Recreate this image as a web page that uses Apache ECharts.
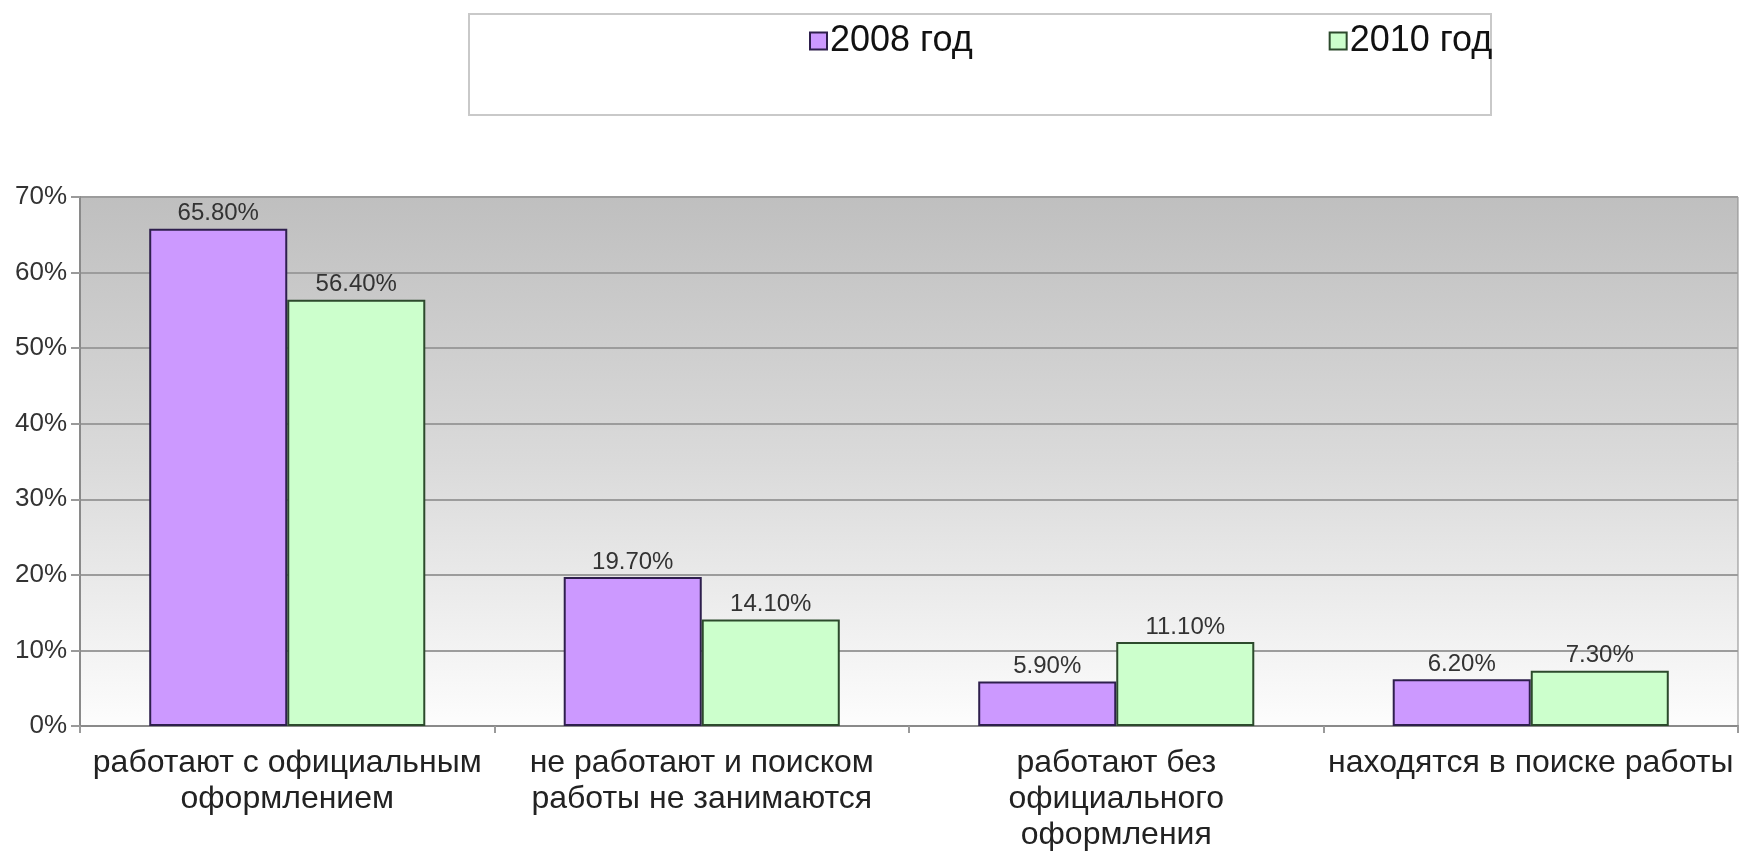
<!DOCTYPE html>
<html>
<head>
<meta charset="utf-8">
<script src="https://cdn.jsdelivr.net/npm/echarts@6/dist/echarts.min.js"></script>
<style>
html,body{margin:0;padding:0;background:#fff;}
#chart{width:1740px;height:853px;}
</style>
</head>
<body>
<div id="chart"></div>
<script>
var categories = [
  'работают с официальным\nоформлением',
  'не работают и поиском\nработы не занимаются',
  'работают без\nофициального\nоформления',
  'находятся в поиске работы'
];
var seriesNames = ['2008 год', '2010 год'];
var values2008 = [65.8, 19.7, 5.9, 6.2];
var values2010 = [56.4, 14.1, 11.1, 7.3];
var yTicks = { min: 0, max: 70, interval: 10 };

var font = 'Arial, "Liberation Sans", sans-serif';
var chart = echarts.init(document.getElementById('chart'), null, { renderer: 'canvas' });

function barSeries(name, data, fill, border) {
  return {
    name: name,
    type: 'bar',
    data: data,
    barGap: '0%',
    barCategoryGap: '33.4%',
    itemStyle: { color: fill, borderColor: border, borderWidth: 2 },
    label: {
      show: true,
      position: 'top',
      distance: 3,
      fontFamily: font,
      fontSize: 24,
      color: '#333',
      formatter: function (p) { return p.value.toFixed(2) + '%'; }
    }
  };
}

chart.setOption({
  animation: false,
  backgroundColor: '#ffffff',
  graphic: [{
    type: 'rect',
    left: 468, top: 13,
    shape: { width: 1022, height: 101 },
    style: { fill: '#ffffff', stroke: '#c9c9c9', lineWidth: 2 },
    z: -1
  }],
  legend: {
    left: 804,
    top: 18,
    itemWidth: 17,
    itemHeight: 17,
    itemGap: 356,
    icon: 'rect',
    textStyle: { fontFamily: font, fontSize: 36, color: '#111', padding: [0, 0, 0, -2] },
    data: seriesNames
  },
  grid: {
    left: 80, right: 2, top: 197, bottom: 122,
    show: true,
    borderColor: '#8a8a8a',
    borderWidth: 1,
    backgroundColor: {
      type: 'linear', x: 0, y: 0, x2: 0, y2: 1,
      colorStops: [
        { offset: 0, color: '#bfbfbf' },
        { offset: 0.5, color: '#dadada' },
        { offset: 1, color: '#fdfdfd' }
      ]
    }
  },
  xAxis: {
    type: 'category',
    data: categories,
    axisLine: { show: true, lineStyle: { color: '#8a8a8a', width: 2 } },
    axisTick: { show: true, length: 7, lineStyle: { color: '#9a9a9a', width: 2 } },
    axisLabel: {
      interval: 0,
      margin: 19,
      fontFamily: font,
      fontSize: 32,
      lineHeight: 36,
      color: '#222'
    }
  },
  yAxis: {
    type: 'value',
    min: yTicks.min,
    max: yTicks.max,
    interval: yTicks.interval,
    axisLine: { show: true, lineStyle: { color: '#8a8a8a', width: 2 } },
    axisTick: { show: true, length: 9, lineStyle: { color: '#9a9a9a', width: 2 } },
    axisLabel: {
      margin: 13,
      fontFamily: font,
      fontSize: 26,
      color: '#333',
      formatter: '{value}%'
    },
    splitLine: { show: true, lineStyle: { color: '#9c9c9c', width: 2 } }
  },
  series: [
    barSeries(seriesNames[0], values2008, '#cc99ff', '#2e1f4d'),
    barSeries(seriesNames[1], values2010, '#ccffcc', '#2c4a2c')
  ]
});
</script>
</body>
</html>
